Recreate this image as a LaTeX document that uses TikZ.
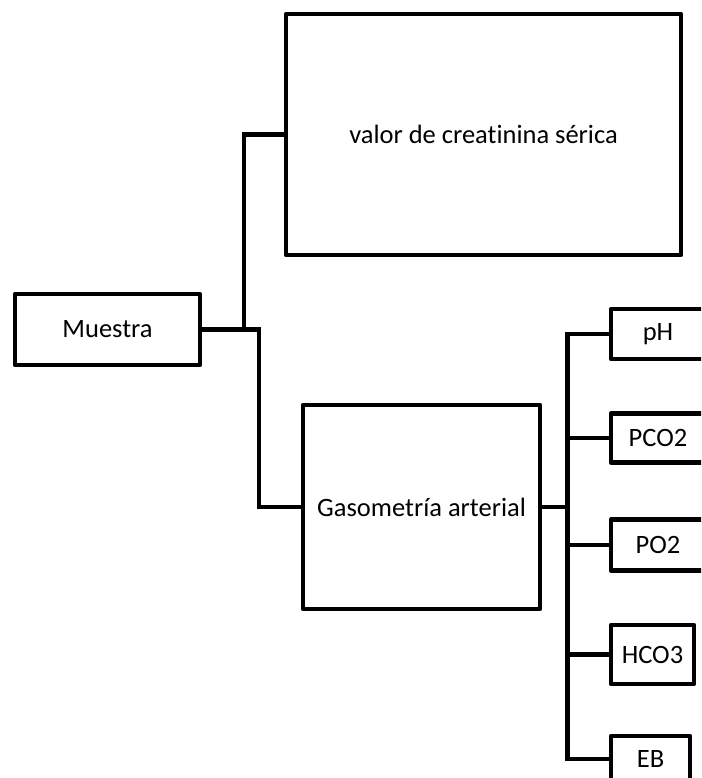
\documentclass[tikz,border=0pt]{standalone}
\usepackage{fontspec}
\setmainfont{Carlito}[Ligatures=CommonOff]
\begin{document}
\begin{tikzpicture}[x=1pt,y=-1pt,
  box/.style={draw=black, line width=4.4pt, rectangle, inner sep=0pt, line join=round,
    font=\fontsize{26.5}{31}\selectfont},
  conn/.style={draw=black, line width=4.4pt, line join=miter}]
\useasboundingbox (0,0) rectangle (701,778);
\clip (0,0) rectangle (701,778);
% main boxes
\node[box, minimum width=185pt, minimum height=71pt] (mue) at (107.5,329.5) {Muestra};
\node[box, minimum width=395pt, minimum height=241pt] (cre) at (483.5,134.5) {valor de creatinina sérica};
\node[box, minimum width=237pt, minimum height=204pt] (gas) at (421.5,507) {Gasometría arterial};
% small boxes
\node[box, minimum width=94pt, minimum height=50pt] (ph) at (658,334) {pH};
\node[box, minimum width=94pt, minimum height=49pt] (pco) at (658,438) {PCO2};
\node[box, minimum width=94pt, minimum height=51pt] (po) at (658,545) {PO2};
\node[box, minimum width=83pt, minimum height=59pt] (hco) at (652.5,654.5) {HCO3};
\node[box, minimum width=79pt, minimum height=46pt] (eb) at (650.5,759) {EB};
% connectors
\coordinate (up) at (244,329.5);
\coordinate (down) at (259,329.5);
\coordinate (bus) at (567.5,507);
\draw[conn] (mue.east) -- (down) |- (gas.west);
\draw[conn] (up) |- (cre.west);
\draw[conn] (gas.east) -- (bus);
\draw[conn] (ph.west) -| (bus) |- (eb.west);
\foreach \n in {pco,po,hco} {\draw[conn] (bus) |- (\n.west);}
\end{tikzpicture}
\end{document}
